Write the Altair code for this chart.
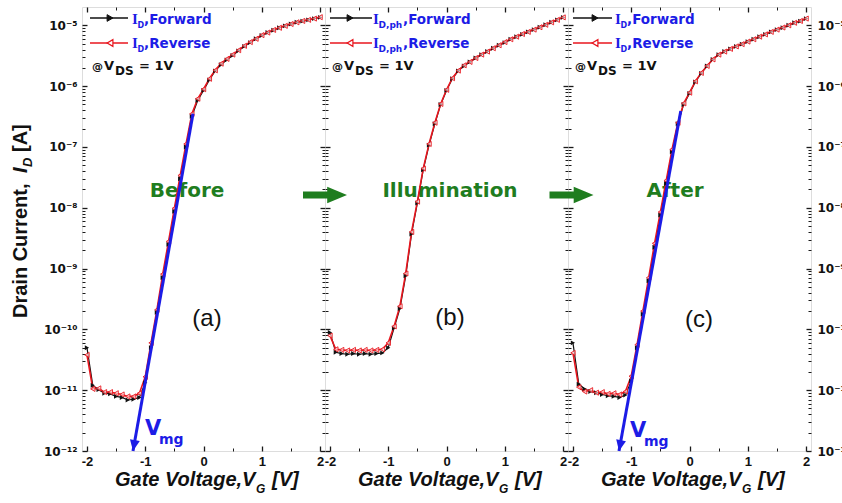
import altair as alt
import pandas as pd

# ---------------- data ----------------
V = [-2.0, -1.9, -1.8, -1.7, -1.6, -1.5, -1.4, -1.3, -1.2, -1.1,
     -1.0, -0.9, -0.8, -0.7, -0.6, -0.5, -0.4, -0.3, -0.2, -0.1,
     0.0, 0.1, 0.2, 0.3, 0.4, 0.5, 0.6, 0.7, 0.8, 0.9,
     1.0, 1.1, 1.2, 1.3, 1.4, 1.5, 1.6, 1.7, 1.8, 1.9, 2.0]

# (a) Before
ID_A_FWD = [5.0e-11, 1.20e-11, 1.02e-11, 8.9e-12, 8.7e-12, 7.9e-12, 7.6e-12, 6.9e-12, 7.1e-12, 7.6e-12,
            1.32e-11, 5.0e-11, 1.9e-10, 7.1e-10, 2.5e-9, 8.7e-9, 3.0e-8, 1.0e-7, 3.2e-7, 5.8e-7,
            8.5e-7, 1.26e-6, 1.78e-6, 2.24e-6, 2.7e-6, 3.2e-6, 3.8e-6, 4.5e-6, 5.2e-6, 6.0e-6,
            6.8e-6, 7.6e-6, 8.3e-6, 9.1e-6, 9.8e-6, 1.05e-5, 1.12e-5, 1.17e-5, 1.23e-5, 1.29e-5, 1.35e-5]
ID_A_REV = [3.8e-11, 1.05e-11, 1.07e-11, 9.3e-12, 9.3e-12, 8.9e-12, 8.5e-12, 7.9e-12, 7.9e-12, 8.9e-12,
            1.66e-11, 6.0e-11, 2.1e-10, 8.1e-10, 2.8e-9, 9.8e-9, 3.4e-8, 1.12e-7, 3.5e-7, 6.2e-7,
            8.9e-7, 1.32e-6, 1.82e-6, 2.34e-6, 2.8e-6, 3.3e-6, 3.9e-6, 4.6e-6, 5.3e-6, 6.0e-6,
            6.9e-6, 7.6e-6, 8.4e-6, 9.1e-6, 9.8e-6, 1.05e-5, 1.12e-5, 1.18e-5, 1.23e-5, 1.29e-5, 1.36e-5]

# (b) Illumination
ID_B_FWD = [8.9e-11, 4.2e-11, 4.0e-11, 3.9e-11, 4.0e-11, 3.9e-11, 4.0e-11, 3.9e-11, 4.0e-11, 4.1e-11,
            5.0e-11, 1.05e-10, 2.2e-10, 7.6e-10, 3.7e-9, 1.2e-8, 4.2e-8, 1.07e-7, 2.4e-7, 5.0e-7,
            8.5e-7, 1.32e-6, 1.78e-6, 2.14e-6, 2.5e-6, 2.9e-6, 3.3e-6, 3.7e-6, 4.2e-6, 4.7e-6,
            5.2e-6, 5.9e-6, 6.5e-6, 7.1e-6, 7.8e-6, 8.5e-6, 9.3e-6, 1.02e-5, 1.12e-5, 1.23e-5, 1.35e-5]
ID_B_REV = [7.9e-11, 4.7e-11, 4.6e-11, 4.5e-11, 4.6e-11, 4.5e-11, 4.6e-11, 4.5e-11, 4.6e-11, 4.7e-11,
            6.0e-11, 1.12e-10, 2.4e-10, 8.3e-10, 4.0e-9, 1.26e-8, 4.4e-8, 1.12e-7, 2.5e-7, 5.1e-7,
            8.7e-7, 1.35e-6, 1.8e-6, 2.2e-6, 2.5e-6, 2.9e-6, 3.3e-6, 3.7e-6, 4.2e-6, 4.7e-6,
            5.3e-6, 5.9e-6, 6.5e-6, 7.2e-6, 7.8e-6, 8.5e-6, 9.3e-6, 1.02e-5, 1.12e-5, 1.23e-5, 1.35e-5]

# (c) After
ID_C_FWD = [6.0e-11, 1.26e-11, 1.05e-11, 9.5e-12, 9.1e-12, 8.5e-12, 8.1e-12, 7.9e-12, 7.6e-12, 8.3e-12,
            1.41e-11, 5.0e-11, 1.78e-10, 6.3e-10, 2.24e-9, 7.6e-9, 2.5e-8, 8.3e-8, 2.4e-7, 5.0e-7,
            7.6e-7, 1.17e-6, 1.62e-6, 2.14e-6, 2.75e-6, 3.3e-6, 3.7e-6, 4.1e-6, 4.5e-6, 4.9e-6,
            5.4e-6, 5.9e-6, 6.5e-6, 7.1e-6, 7.8e-6, 8.5e-6, 9.1e-6, 1.0e-5, 1.1e-5, 1.17e-5, 1.29e-5]
ID_C_REV = [4.1e-11, 1.12e-11, 9.5e-12, 1.0e-11, 9.1e-12, 9.3e-12, 8.7e-12, 8.9e-12, 8.5e-12, 9.5e-12,
            1.7e-11, 5.6e-11, 2.0e-10, 7.1e-10, 2.6e-9, 8.5e-9, 2.8e-8, 9.1e-8, 2.5e-7, 5.2e-7,
            7.8e-7, 1.2e-6, 1.65e-6, 2.15e-6, 2.75e-6, 3.3e-6, 3.7e-6, 4.1e-6, 4.5e-6, 4.9e-6,
            5.4e-6, 5.9e-6, 6.5e-6, 7.1e-6, 7.8e-6, 8.5e-6, 9.2e-6, 1.0e-5, 1.1e-5, 1.18e-5, 1.29e-5]

# V_mg extrapolation lines (tip at the bottom, top end)
VMG_A_V = [-1.21, -0.18]
VMG_A_I = [1.0e-12, 3.5e-7]
VMG_C_V = [-1.21, -0.15]
VMG_C_I = [1.0e-12, 3.9e-7]

X_TICKS = [-2, -1, 0, 1, 2]
X_MINOR = [-1.5, -0.5, 0.5, 1.5]
Y_TICKS = [1e-12, 1e-11, 1e-10, 1e-9, 1e-8, 1e-7, 1e-6, 1e-5]
Y_MINOR = [m * d for d in Y_TICKS for m in range(2, 10) if m * d < 1.9e-5]

# ---------------- styling ----------------
W, H = 243, 444
BLACK = "#111111"
RED = "#e8161e"
BLUE = "#1c1ce6"
GREEN = "#1f7d1f"
AXC = "#1a1a1a"
SANS = "DejaVu Sans"
ARIAL = "Liberation Sans"
SERIF = "Liberation Serif"

XS = alt.Scale(domain=[-2.085, 2.085], nice=False, zero=False)
YS = alt.Scale(type="log", domain=[1e-12, 2e-5], nice=False)

XLAB = "datum.value < 0 ? '-' + abs(datum.value) : '' + datum.value"
YLAB = ("'10' + ['\u207b\u00b9\u00b2','\u207b\u00b9\u00b9','\u207b\u00b9\u2070','\u207b\u2079',"
        "'\u207b\u2078','\u207b\u2077','\u207b\u2076','\u207b\u2075']"
        "[round(log(datum.value) / LN10) + 12]")

ONE = pd.DataFrame({"a": [0]})
CARRIER = pd.DataFrame({"v": [0.0], "i": [1e-8]})


def make_axis(orient, values, major, labels=False, expr=None, pad=5, font=SANS, size=12):
    d = dict(orient=orient, values=values, offset=-5 if major else -3,
             tickSize=5 if major else 3, domain=False, grid=False, ticks=True,
             tickColor=AXC, tickWidth=1.3 if major else 1.0, labels=labels)
    if labels:
        d.update(labelExpr=expr, labelPadding=pad, labelFont=font, labelFontSize=size,
                 labelFontWeight="bold", labelColor=BLACK, labelFlush=False,
                 labelOverlap=False)
    return alt.Axis(**d)


def carrier(xa, ya):
    return alt.Chart(CARRIER).mark_point(opacity=0).encode(
        x=alt.X("v:Q", scale=XS, axis=xa, title=None),
        y=alt.Y("i:Q", scale=YS, axis=ya, title=None))


def txt(s, x, y, size, color=BLACK, font=SANS, weight="bold", style="normal",
        align="left", baseline="alphabetic", angle=0):
    mk = dict(align=align, baseline=baseline, fontSize=size, font=font,
              fontWeight=weight, fontStyle=style, color=color)
    if angle:
        mk["angle"] = angle
    return alt.Chart(pd.DataFrame({"t": [s]})).mark_text(**mk).encode(
        x=alt.value(x), y=alt.value(y), text="t:N")


def rule(x1, x2, y, color, width):
    return alt.Chart(ONE).mark_rule(color=color, strokeWidth=width).encode(
        x=alt.value(x1), x2=alt.value(x2), y=alt.value(y))


def sym(x, y, shape, fill, stroke, size, sw=1.0):
    return alt.Chart(ONE).mark_point(shape=shape, filled=True, fill=fill, stroke=stroke,
                                     strokeWidth=sw, size=size, opacity=1).encode(
        x=alt.value(x), y=alt.value(y))


GREEN_ARROW = "M-1,-0.16L0.1,-0.16L0.1,-0.38L1,0L0.1,0.38L0.1,0.16L-1,0.16Z"
BLUE_HEAD = "M0,0L-0.45,-1L0.45,-1Z"


def legend(x1, x2, xm, xi, xsub, xword, sub, subsize):
    return [
        rule(x1, x2, 11, BLACK, 1.3),
        sym(xm, 11, "triangle-right", BLACK, BLACK, 45),
        rule(x1, x2, 36, RED, 1.5),
        sym(xm, 36, "triangle-left", "white", RED, 45, 1.2),
        txt("I", xi, 17, 15, BLUE, SERIF),
        txt(sub, xsub, 21, subsize, BLUE),
        txt(",Forward", xword, 17, 13.5, BLUE),
        txt("I", xi, 41, 15, BLUE, SERIF),
        txt(sub, xsub, 45, subsize, BLUE),
        txt(",Reverse", xword, 41, 13.5, BLUE),
    ]


def vds(x0):
    return [
        txt("@", x0, 63, 11),
        txt("V", x0 + 12, 63, 13),
        txt("DS", x0 + 23, 68, 12),
        txt("= 1V", x0 + 47, 63, 13),
    ]


def xtitle():
    return [
        txt("Gate Voltage,V", 33, 479, 20, BLACK, ARIAL, "bold", "italic"),
        txt("G", 174, 486, 12, BLACK, ARIAL, "bold", "italic"),
        txt("[V]", 190, 479, 20, BLACK, ARIAL, "bold", "italic"),
    ]


def data_layers(fwd, rev):
    df_f = pd.DataFrame({"v": V, "i": fwd})
    df_r = pd.DataFrame({"v": V, "i": rev})
    X = alt.X("v:Q", scale=XS, axis=None)
    Y = alt.Y("i:Q", scale=YS, axis=None)
    return [
        alt.Chart(df_f).mark_line(color=BLACK, strokeWidth=1.2).encode(x=X, y=Y),
        alt.Chart(df_r).mark_line(color=RED, strokeWidth=1.6).encode(x=X, y=Y),
        alt.Chart(df_f).mark_point(shape="triangle-right", filled=True, color=BLACK,
                                   size=24, opacity=1).encode(x=X, y=Y),
        alt.Chart(df_r).mark_point(shape="triangle-left", filled=True, fill="white",
                                   fillOpacity=0.6, stroke=RED, strokeWidth=0.9,
                                   size=26, opacity=1).encode(x=X, y=Y),
    ]


def vmg_layers(vv, ii, angle, xv, yv):
    X = alt.X("v:Q", scale=XS, axis=None)
    Y = alt.Y("i:Q", scale=YS, axis=None)
    df_l = pd.DataFrame({"v": vv, "i": ii})
    df_t = pd.DataFrame({"v": [vv[0]], "i": [ii[0]]})
    return [
        alt.Chart(df_l).mark_line(color=BLUE, strokeWidth=3).encode(x=X, y=Y),
        alt.Chart(df_t).mark_point(shape=BLUE_HEAD, filled=True, color=BLUE, size=484,
                                   angle=angle, opacity=1).encode(x=X, y=Y),
        txt("V", xv, yv, 21, BLUE),
        txt("mg", xv + 14, yv + 9, 14, BLUE),
    ]


def axes_layers(left_labels, right_labels):
    xb = make_axis("bottom", X_TICKS, True, True, XLAB, 4, ARIAL, 13)
    xbm = make_axis("bottom", X_MINOR, False)
    xt = make_axis("top", X_TICKS, True)
    xtm = make_axis("top", X_MINOR, False)
    yl = make_axis("left", Y_TICKS, True, left_labels, YLAB, 5, SANS, 12)
    ylm = make_axis("left", Y_MINOR, False)
    yr = make_axis("right", Y_TICKS, True, right_labels, YLAB, 6, SANS, 12)
    yrm = make_axis("right", Y_MINOR, False)
    return [carrier(xb, yl), carrier(xbm, ylm), carrier(xt, yr), carrier(xtm, yrm)]


def finish(layers):
    return alt.layer(*layers).resolve_axis(x="independent", y="independent").properties(
        width=W, height=H)


# ---------------- panel (a) ----------------
a_layers = axes_layers(True, False)
a_layers += [
    # invisible layout anchor (keeps the plot at the reference position)
    alt.Chart(ONE).mark_rule(opacity=0, strokeWidth=1).encode(
        x=alt.value(-81.5), y=alt.value(-6.5), y2=alt.value(489)),
    txt("Before", 105, 184, 20, GREEN, SANS, baseline="middle", align="center"),
    txt("(a)", 125, 312, 24, BLACK, ARIAL, "normal", baseline="middle", align="center"),
]
a_layers += data_layers(ID_A_FWD, ID_A_REV)
a_layers += vmg_layers(VMG_A_V, VMG_A_I, 10, 63, 428)
a_layers += legend(8, 46, 28, 50, 55.5, 62, "D", 8)
a_layers += vds(10)
a_layers += xtitle()
a_layers += [
    txt("Drain Current,", -55, 311, 20, BLACK, ARIAL, angle=270),
    txt("I", -55, 166, 20, BLACK, ARIAL, "bold", "italic", angle=270),
    txt("D", -50, 160, 13, BLACK, ARIAL, "bold", "italic", angle=270),
    txt("[A]", -55, 145, 20, BLACK, ARIAL, angle=270),
]
panel_a = finish(a_layers)

# ---------------- panel (b) ----------------
b_layers = axes_layers(False, False)
b_layers += [
    txt("Illumination", 125, 184, 20, GREEN, SANS, baseline="middle", align="center"),
    txt("(b)", 125, 311, 24, BLACK, ARIAL, "normal", baseline="middle", align="center"),
]
b_layers += data_layers(ID_B_FWD, ID_B_REV)
b_layers += legend(5, 47, 25, 48, 53.5, 78, "D,ph", 9)
b_layers += vds(7)
b_layers += xtitle()
b_layers += [sym(0, 188, GREEN_ARROW, GREEN, GREEN, 1936, 0)]
panel_b = finish(b_layers)

# ---------------- panel (c) ----------------
c_layers = axes_layers(False, True)
c_layers += [
    txt("After", 107, 184, 20, GREEN, SANS, baseline="middle", align="center"),
    txt("(c)", 131, 313, 24, BLACK, ARIAL, "normal", baseline="middle", align="center"),
]
c_layers += data_layers(ID_C_FWD, ID_C_REV)
c_layers += vmg_layers(VMG_C_V, VMG_C_I, 11, 62, 430)
c_layers += legend(5, 44, 27, 47, 52.5, 59, "D", 8)
c_layers += vds(7)
c_layers += xtitle()
c_layers += [sym(3.5, 188, GREEN_ARROW, GREEN, GREEN, 1936, 0)]
panel_c = finish(c_layers)

chart = alt.hconcat(panel_a, panel_b, panel_c, spacing=0, bounds="flush").properties(
    padding={"left": 0, "top": 0, "right": -10, "bottom": 0}
).configure_view(stroke=AXC, strokeWidth=1.6).configure(background="white")

chart.save("out.html", embed_options={"renderer": "svg", "actions": False})
